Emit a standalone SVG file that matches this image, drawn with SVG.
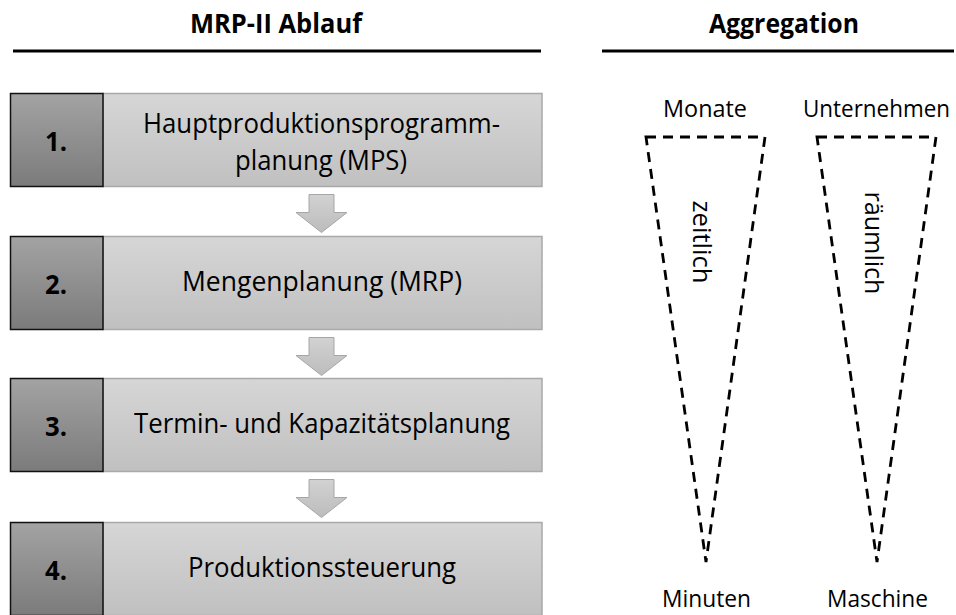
<svg xmlns="http://www.w3.org/2000/svg" width="956" height="615" viewBox="0 0 956 615">
  <defs>
    <linearGradient id="gradStep" x1="0" y1="0" x2="0" y2="1">
      <stop offset="0" stop-color="#d6d6d6"/>
      <stop offset="1" stop-color="#c0c0c0"/>
    </linearGradient>
    <linearGradient id="gradNum" x1="0" y1="0" x2="0" y2="1">
      <stop offset="0" stop-color="#a3a3a3"/>
      <stop offset="1" stop-color="#7b7b7b"/>
    </linearGradient>
    <linearGradient id="gradArrow" x1="0" y1="0" x2="0" y2="1">
      <stop offset="0" stop-color="#d2d2d2"/>
      <stop offset="1" stop-color="#bcbcbc"/>
    </linearGradient>
    <path id="downArrow" d="M-12.5,0 H12.5 V18 H25.5 L0,38 L-25.5,18 H-12.5 Z"/>
  </defs>
  <style>
    text { font-family: "Open Sans", "Liberation Sans", sans-serif; fill: #000; }
    .title { font-size: 26.5px; font-weight: bold; text-anchor: middle; }
    .rule { stroke: #000; stroke-width: 2.8; fill: none; }
    .step { fill: url(#gradStep); stroke: #a9a9a9; stroke-width: 1.5; }
    .num { fill: url(#gradNum); stroke: #111; stroke-width: 1.5; }
    .numtxt { font-size: 27px; font-weight: bold; text-anchor: middle; }
    .label { font-size: 26.5px; text-anchor: middle; }
    .agg { font-size: 23.5px; text-anchor: middle; }
    .axis { font-size: 26px; text-anchor: middle; }
    .wedge { fill: none; stroke: #000; stroke-width: 2.8; stroke-dasharray: 10 7; }
    .flow { fill: url(#gradArrow); stroke: #a6a6a6; stroke-width: 1; }
  </style>

  <!-- column headings -->
  <g id="heading-mrp">
    <text class="title" x="276" y="33" textLength="172" lengthAdjust="spacingAndGlyphs">MRP-II Ablauf</text>
    <line class="rule" x1="13" y1="51" x2="541" y2="51"/>
  </g>
  <g id="heading-aggregation">
    <text class="title" x="784" y="33" textLength="150" lengthAdjust="spacingAndGlyphs">Aggregation</text>
    <line class="rule" x1="602" y1="51" x2="954" y2="51"/>
  </g>

  <!-- process steps -->
  <g id="step1">
    <rect class="step" x="103" y="93.5" width="439" height="93"/>
    <rect class="num" x="10.5" y="93.5" width="92.5" height="93"/>
    <text class="numtxt" x="56" y="151" textLength="22" lengthAdjust="spacingAndGlyphs">1.</text>
    <text class="label" x="321.5" y="133" textLength="357" lengthAdjust="spacingAndGlyphs">Hauptproduktionsprogramm-</text>
    <text class="label" x="321" y="170" textLength="172" lengthAdjust="spacingAndGlyphs">planung (MPS)</text>
  </g>
  <g id="step2">
    <rect class="step" x="103" y="236.5" width="439" height="93"/>
    <rect class="num" x="10.5" y="236.5" width="92.5" height="93"/>
    <text class="numtxt" x="56" y="294" textLength="22" lengthAdjust="spacingAndGlyphs">2.</text>
    <text class="label" x="322" y="291" textLength="280" lengthAdjust="spacingAndGlyphs">Mengenplanung (MRP)</text>
  </g>
  <g id="step3">
    <rect class="step" x="103" y="378.5" width="439" height="93"/>
    <rect class="num" x="10.5" y="378.5" width="92.5" height="93"/>
    <text class="numtxt" x="56" y="436" textLength="22" lengthAdjust="spacingAndGlyphs">3.</text>
    <text class="label" x="322" y="433" textLength="376" lengthAdjust="spacingAndGlyphs">Termin- und Kapazitätsplanung</text>
  </g>
  <g id="step4">
    <rect class="step" x="103" y="522.5" width="439" height="93"/>
    <rect class="num" x="10.5" y="522.5" width="92.5" height="93"/>
    <text class="numtxt" x="56" y="580" textLength="22" lengthAdjust="spacingAndGlyphs">4.</text>
    <text class="label" x="322" y="577" textLength="268" lengthAdjust="spacingAndGlyphs">Produktionssteuerung</text>
  </g>

  <!-- block arrows between steps -->
  <g id="connectors">
    <use href="#downArrow" class="flow" x="321.5" y="194.5"/>
    <use href="#downArrow" class="flow" x="321.5" y="337.5"/>
    <use href="#downArrow" class="flow" x="321.5" y="479.5"/>
  </g>

  <!-- temporal aggregation wedge -->
  <g id="wedge-time">
    <text class="agg" x="705" y="117" textLength="84" lengthAdjust="spacingAndGlyphs">Monate</text>
    <polygon class="wedge" points="646,137 765,137 706,562"/>
    <text class="axis" transform="translate(693,242) rotate(90)" textLength="83" lengthAdjust="spacingAndGlyphs">zeitlich</text>
    <text class="agg" x="706.5" y="607" textLength="89" lengthAdjust="spacingAndGlyphs">Minuten</text>
  </g>

  <!-- spatial aggregation wedge -->
  <g id="wedge-space">
    <text class="agg" x="876.5" y="117" textLength="147" lengthAdjust="spacingAndGlyphs">Unternehmen</text>
    <polygon class="wedge" points="817,137 936,137 877,562"/>
    <text class="axis" transform="translate(865,243) rotate(90)" textLength="103" lengthAdjust="spacingAndGlyphs">räumlich</text>
    <text class="agg" x="877.5" y="607" textLength="101" lengthAdjust="spacingAndGlyphs">Maschine</text>
  </g>
</svg>
